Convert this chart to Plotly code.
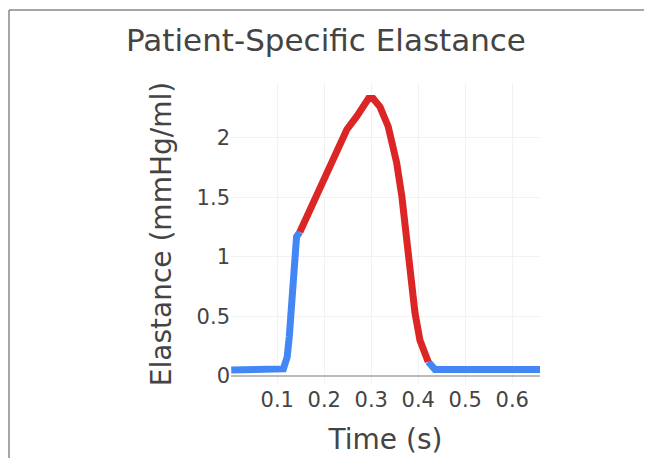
import plotly.graph_objects as go

# Diastole (filling) before contraction
t_fill = [0.002, 0.113, 0.121, 0.1255, 0.141, 0.148]
e_fill = [0.050, 0.060, 0.16, 0.33, 1.17, 1.21]

# Systole (contraction)
t_sys = [0.148, 0.170, 0.198, 0.226, 0.248, 0.269, 0.294, 0.304, 0.3185, 0.336, 0.354, 0.365, 0.379, 0.393, 0.4036, 0.412, 0.421]
e_sys = [1.21, 1.395, 1.62, 1.885, 2.07, 2.18, 2.33, 2.33, 2.26, 2.095, 1.79, 1.51, 1.00, 0.53, 0.30, 0.20, 0.12]

# Diastole (relaxation) after contraction
t_relax = [0.421, 0.4355, 0.50, 0.60, 0.66]
e_relax = [0.12, 0.056, 0.056, 0.056, 0.056]

x_ticks = [0.1, 0.2, 0.3, 0.4, 0.5, 0.6]
y_ticks = [0, 0.5, 1, 1.5, 2]

BLUE = "#4287f5"
RED = "#dc2626"

fig = go.Figure()
fig.add_trace(go.Scatter(x=t_fill, y=e_fill, mode="lines",
                         line=dict(color=BLUE, width=7), showlegend=False))
fig.add_trace(go.Scatter(x=t_relax, y=e_relax, mode="lines",
                         line=dict(color=BLUE, width=7), showlegend=False))
fig.add_trace(go.Scatter(x=t_sys, y=e_sys, mode="lines",
                         line=dict(color=RED, width=7), showlegend=False))

font_family = "DejaVu Sans, Verdana, sans-serif"

L, R, T, B = 223, 532, 75, 377
W, H = 652, 458

fig.update_layout(
    width=W, height=H,
    margin=dict(l=L, r=W - R, t=T, b=H - B),
    paper_bgcolor="white", plot_bgcolor="white",
    font=dict(family=font_family, color="#444"),
    title=dict(text="Patient-Specific Elastance", x=318 / W, xref="container",
               xanchor="center", y=1 - 32 / H, yanchor="middle",
               font=dict(size=31, color="#444")),
    xaxis=dict(range=[0.0015, 0.659], tickvals=x_ticks,
               ticktext=[str(v) for v in x_ticks],
               tickfont=dict(size=21), showgrid=True, gridcolor="#f2f2f2",
               zeroline=False, showline=False, ticks="",
               title=dict(text="Time (s)", font=dict(size=28), standoff=18)),
    yaxis=dict(range=[-0.075, 2.46], tickvals=y_ticks,
               ticktext=["0", "0.5", "1", "1.5", "2"],
               tickfont=dict(size=21), showgrid=True, gridcolor="#f2f2f2",
               zeroline=True, zerolinecolor="#bbbbbb", zerolinewidth=1.5,
               showline=False, ticks="",
               title=dict(text="Elastance (mmHg/ml)", font=dict(size=28), standoff=16)),
)

# page frame lines (top and left edges)
pw, ph = R - L, B - T
fig.add_shape(type="line", xref="paper", yref="paper",
              x0=(1 - L) / pw, x1=(W - L) / pw,
              y0=(B - 2) / ph, y1=(B - 2) / ph,
              line=dict(color="#888888", width=1.5))
fig.add_shape(type="line", xref="paper", yref="paper",
              x0=(1 - L) / pw, x1=(1 - L) / pw,
              y0=(B - 2) / ph, y1=(B - H) / ph,
              line=dict(color="#888888", width=1.5))

fig.write_html("out.html")
